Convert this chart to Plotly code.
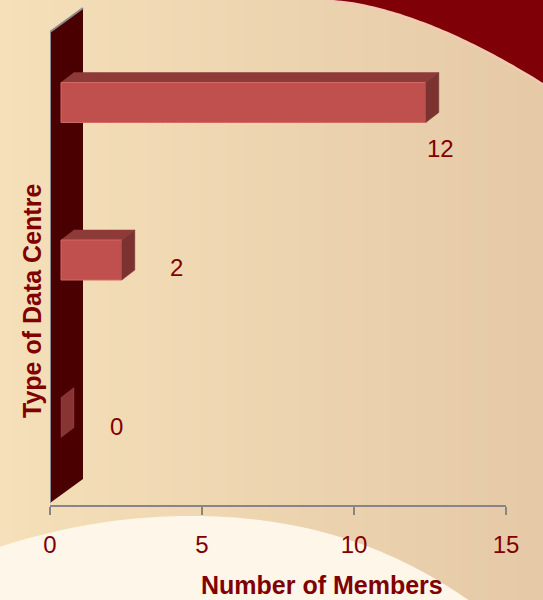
import numpy as np
import plotly.graph_objects as go

# ---- data ----
categories = ["Type A", "Type B", "Type C"]
members = [12, 2, 0]
x_ticks = [0, 5, 10, 15]
value_labels = ["12", "2", "0"]

# ---- figure geometry (pixels) ----
W, H = 543, 600
PX_PER_UNIT = (506 - 50) / 15.0          # x axis scale
PX_PER_CAT = 157.5                        # spacing between bars
X0_PX, AXIS_PX, CAT0_PX = 50, 505, 102.5

def px_to_paper(px, py):
    return px / W, 1 - py / H

# y range so category 0 sits at CAT0_PX and the axis line at AXIS_PX
y_top = -CAT0_PX / PX_PER_CAT
y_bot = (AXIS_PX - CAT0_PX) / PX_PER_CAT

# 3D offsets (converted to data units)
bar_front = 11 / PX_PER_UNIT
depth_x = 13 / PX_PER_UNIT
depth_y = -10 / PX_PER_CAT
half_h = 20 / PX_PER_CAT
wall_dx = 33 / PX_PER_UNIT
wall_dy = -24 / PX_PER_CAT

FRONT = "#c0504d"
TOP = "#8e3a38"
SIDE = "#7b3231"
WALL = "#4a0000"
TEXT = "#800000"
FONT = "Arial, Liberation Sans, sans-serif"

fig = go.Figure()

# back wall
w_top = (32 - CAT0_PX) / PX_PER_CAT
w_bot = (503 - CAT0_PX) / PX_PER_CAT
fig.add_trace(go.Scatter(
    x=[0, wall_dx, wall_dx, 0, 0],
    y=[w_top, w_top + wall_dy, w_bot + wall_dy, w_bot, w_top],
    fill="toself", fillcolor=WALL, mode="lines",
    line=dict(color=WALL, width=0), hoverinfo="skip", showlegend=False))
fig.add_trace(go.Scatter(
    x=[0, 0, wall_dx], y=[w_bot, w_top, w_top + wall_dy], mode="lines",
    line=dict(color="#8a8a8a", width=2), hoverinfo="skip", showlegend=False))

# 3D bars
for i, v in enumerate(members):
    a = bar_front
    b = a + v
    t = i - half_h
    bt = i + half_h
    if v > 0:
        # top face
        fig.add_trace(go.Scatter(
            x=[a, b, b + depth_x, a + depth_x, a],
            y=[t, t, t + depth_y, t + depth_y, t],
            fill="toself", fillcolor=TOP, mode="lines",
            line=dict(color=TOP, width=0.5), hoverinfo="skip", showlegend=False))
        # front face
        fig.add_trace(go.Scatter(
            x=[a, b, b, a, a], y=[t, t, bt, bt, t],
            fill="toself", fillcolor=FRONT, mode="lines",
            line=dict(color="#cf6a64", width=1), hoverinfo="skip", showlegend=False))
    side_col = SIDE if v > 0 else "rgba(190,95,95,0.55)"
    # right face
    fig.add_trace(go.Scatter(
        x=[b, b + depth_x, b + depth_x, b, b],
        y=[t, t + depth_y, bt + depth_y, bt, t],
        fill="toself", fillcolor=side_col, mode="lines",
        line=dict(color=side_col, width=0.5), hoverinfo="skip", showlegend=False))

# value labels
label_shift = [(26, -46), (66, -7), (66, -9)]
for i, (v, txt) in enumerate(zip(members, value_labels)):
    fig.add_annotation(
        x=v, y=i, xref="x", yref="y", text=txt, showarrow=False,
        xanchor="center", yanchor="middle",
        xshift=label_shift[i][0], yshift=label_shift[i][1],
        font=dict(family=FONT, size=24, color=TEXT))

# ---- background ----
shapes = []
left = np.array([245, 224, 185])
right = np.array([230, 202, 168])
n = 60
for k in range(n):
    f = k / (n - 1)
    c = (left * (1 - f) + right * f).astype(int)
    shapes.append(dict(type="rect", xref="paper", yref="paper",
                       x0=k / n, x1=(k + 1) / n + 0.002, y0=0, y1=1,
                       fillcolor="rgb(%d,%d,%d)" % tuple(c), line=dict(width=0),
                       layer="below"))

def path(points, close=True):
    pts = [px_to_paper(*p) for p in points]
    s = "M %.4f,%.4f" % pts[0]
    for p in pts[1:]:
        s += " L %.4f,%.4f" % p
    return s + (" Z" if close else "")

# cream curve at the bottom (soft edge made from stacked layers)
curve_x = np.linspace(-5, 560, 80)
def cream_y(x):
    # smooth hump peaking near x=190
    d = x - 190
    quad = np.where(d < 0, 0.00085, 0.00075) * d ** 2
    return 516 + quad + 0.0000012 * np.maximum(d, 0) ** 3
for off, op in [(-6, 0.15), (-3, 0.3), (0, 1.0)]:
    pts = [(x, cream_y(x) - off) for x in curve_x] + [(560, 620), (-5, 620)]
    shapes.append(dict(type="path", xref="paper", yref="paper", path=path(pts),
                       fillcolor="rgba(253,246,233,%.2f)" % op, line=dict(width=0),
                       layer="below"))

# dark red swoosh, top right
sw_x = np.linspace(330, 560, 60)
def swoosh_y(x):
    return 83 * ((x - 330) / 213.0) ** 1.61
glow = [(x, swoosh_y(x) + 3) for x in sw_x] + [(560, -10), (325, -10)]
shapes.append(dict(type="path", xref="paper", yref="paper", path=path(glow),
                   fillcolor="rgba(245,200,180,0.8)", line=dict(width=0), layer="below"))
body = [(x, swoosh_y(x)) for x in sw_x] + [(560, -10), (325, -10)]
shapes.append(dict(type="path", xref="paper", yref="paper", path=path(body),
                   fillcolor="#800008", line=dict(width=0), layer="below"))

# axis titles
fig.add_annotation(x=322 / W, y=1 - 585 / H, xref="paper", yref="paper",
                   xanchor="center", yanchor="middle",
                   text="<b>Number of Members</b>", showarrow=False,
                   font=dict(family=FONT, size=25, color=TEXT))
fig.add_annotation(x=32 / W, y=1 - 301 / H, xref="paper", yref="paper",
                   xanchor="center", yanchor="middle",
                   text="<b>Type of Data Centre</b>", showarrow=False, textangle=-90,
                   font=dict(family=FONT, size=25, color=TEXT))

fig.update_layout(
    width=W, height=H,
    margin=dict(l=0, r=0, t=0, b=0, autoexpand=False),
    paper_bgcolor="#f0d8b2", plot_bgcolor="rgba(0,0,0,0)",
    shapes=shapes, showlegend=False,
    xaxis=dict(domain=[X0_PX / W, 506 / W], range=[0, 15], tickvals=x_ticks,
               showgrid=False, zeroline=False, showline=True, linecolor="#868686",
               linewidth=2, ticks="outside", ticklen=8, tickwidth=2, tickcolor="#868686",
               ticklabelstandoff=9, automargin=False,
               tickfont=dict(family=FONT, size=24, color=TEXT),
               fixedrange=True),
    yaxis=dict(domain=[1 - AXIS_PX / H, 1], range=[y_bot, y_top], automargin=False,
               showgrid=False, zeroline=False, showline=False, showticklabels=False,
               fixedrange=True),
)

fig.write_html("out.html")
